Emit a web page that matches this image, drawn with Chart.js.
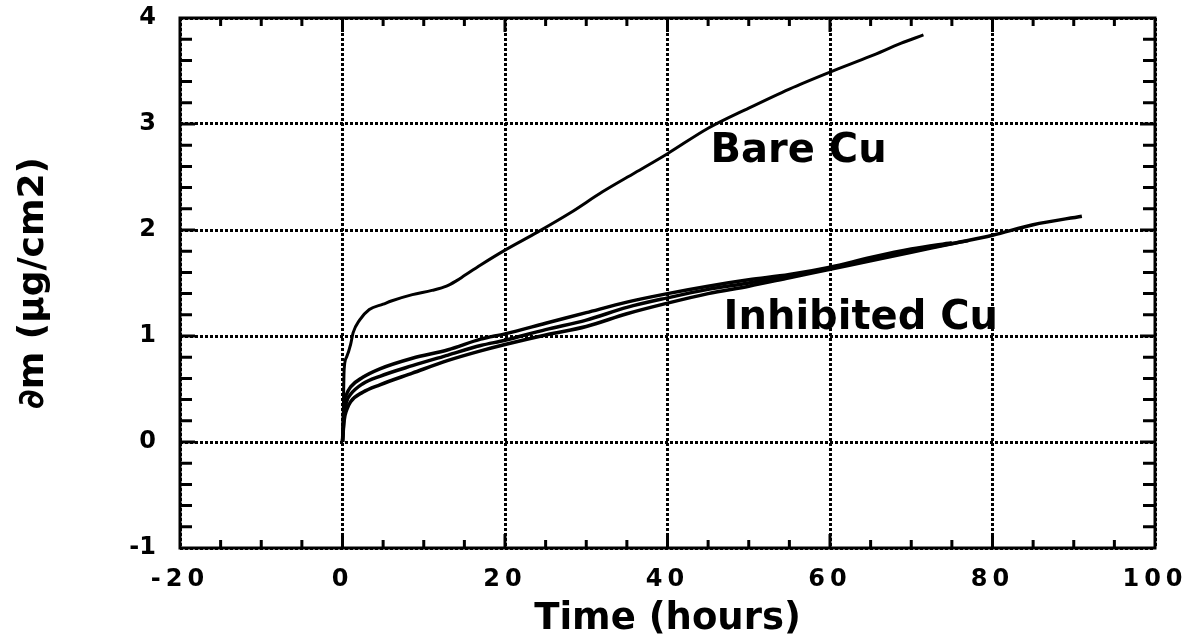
<!DOCTYPE html>
<html>
<head>
<meta charset="utf-8">
<script src="https://cdn.jsdelivr.net/npm/chart.js"></script>
<style>
  html, body { margin: 0; padding: 0; background: #fff; }
  canvas { display: block; }
</style>
</head>
<body>
<canvas id="massChart" width="1184" height="644"></canvas>
<script>
// mass gain vs time
const timeBare = [0, 0.1, 0.2, 0.5, 1.0, 1.3, 2.1, 3.3, 5, 6, 8.6, 11, 12.8, 14, 15, 17, 20, 24, 28, 32, 36, 40, 45, 50, 55, 60, 65, 68.7, 71.5];
const massBare = [0, 0.3, 0.68, 0.8, 0.92, 1.03, 1.15, 1.25, 1.30, 1.33, 1.39, 1.43, 1.47, 1.52, 1.57, 1.67, 1.81, 1.98, 2.16, 2.36, 2.54, 2.72, 2.96, 3.15, 3.33, 3.49, 3.64, 3.76, 3.84];

const timeInhA = [0, 0.2, 0.5, 1, 2.5, 4.6, 8.6, 13, 17, 20, 25, 30, 35, 40, 45, 50, 55, 60, 65, 70, 75];
const massInhA = [0, 0.35, 0.45, 0.52, 0.61, 0.69, 0.79, 0.87, 0.97, 1.02, 1.12, 1.22, 1.32, 1.40, 1.47, 1.53, 1.58, 1.65, 1.74, 1.82, 1.88];

const timeInhB = [0, 0.2, 0.5, 1, 2.5, 4.6, 8.6, 13, 17, 20, 25, 30, 35, 40, 45, 50, 55, 60, 65, 70, 77];
const massInhB = [0, 0.25, 0.38, 0.45, 0.55, 0.62, 0.72, 0.82, 0.91, 0.96, 1.06, 1.15, 1.27, 1.36, 1.44, 1.50, 1.57, 1.64, 1.72, 1.80, 1.90];

const timeInhC = [0, 0.2, 0.5, 1, 2.5, 4.6, 8.6, 13, 17, 20, 25, 30, 35, 40, 45, 50, 55, 60, 65, 70, 75, 80, 85, 91];
const massInhC = [0, 0.2, 0.3, 0.38, 0.47, 0.54, 0.65, 0.77, 0.86, 0.92, 1.01, 1.09, 1.21, 1.31, 1.40, 1.47, 1.55, 1.63, 1.71, 1.79, 1.87, 1.95, 2.05, 2.13];

// curve labels: [text, time, mass at baseline]
const curveLabels = [
  ['Bare Cu', 45.3, 2.64],
  ['Inhibited Cu', 46.9, 1.07]
];

const xMin = -20, xMax = 100, xStep = 20, xMinor = 5;
const yMin = -1, yMax = 4, yStep = 1, yMinor = 0.2;

function pts(xs, ys) {
  return xs.map((x, i) => ({ x, y: ys[i] }));
}

function line(data, w) {
  return {
    data,
    showLine: true,
    borderColor: '#000',
    borderWidth: w,
    pointRadius: 0,
    cubicInterpolationMode: 'monotone',
    fill: false
  };
}

// drop the automatic label overhang so layout padding alone sets the plot box
function noOverhang(s) {
  s.paddingTop = 0; s.paddingBottom = 0;
  s.paddingLeft = 0; s.paddingRight = 0;
}

// x tick labels get letter spacing (drawn after datasets, ticks.z = 1)
const frame = {
  id: 'frame',
  afterDatasetsDraw(chart) {
    chart.ctx.letterSpacing = '5px';
  },
  afterDraw(chart) {
    const ctx = chart.ctx;
    ctx.letterSpacing = '0px';
    const a = chart.chartArea;
    const xs = chart.scales.x, ys = chart.scales.y;
    ctx.save();
    ctx.strokeStyle = '#000';
    ctx.lineWidth = 3;
    ctx.strokeRect(a.left, a.top, a.right - a.left, a.bottom - a.top);
    ctx.beginPath();
    for (let v = xMin + xMinor; v < xMax; v += xMinor) {
      const px = xs.getPixelForValue(v);
      const len = (v % xStep === 0) ? 14 : 8;
      ctx.moveTo(px, a.bottom); ctx.lineTo(px, a.bottom - len);
      ctx.moveTo(px, a.top); ctx.lineTo(px, a.top + len);
    }
    for (let k = 1; k < (yMax - yMin) / yMinor; k++) {
      const v = yMin + k * yMinor;
      const py = ys.getPixelForValue(v);
      const len = (k % 5 === 0) ? 15 : 12;
      ctx.moveTo(a.left, py); ctx.lineTo(a.left + len, py);
      ctx.moveTo(a.right, py); ctx.lineTo(a.right - len, py);
    }
    ctx.stroke();

    ctx.fillStyle = '#000';
    ctx.font = 'bold 40px "DejaVu Sans"';
    ctx.textAlign = 'left';
    ctx.textBaseline = 'alphabetic';
    curveLabels.forEach(([t, x, y]) => {
      ctx.fillText(t, xs.getPixelForValue(x), ys.getPixelForValue(y));
    });
    ctx.restore();
  }
};

new Chart(document.getElementById('massChart'), {
  type: 'scatter',
  data: {
    datasets: [
      line(pts(timeBare, massBare), 3),
      line(pts(timeInhA, massInhA), 3.5),
      line(pts(timeInhB, massInhB), 3.5),
      line(pts(timeInhC, massInhC), 3.5)
    ]
  },
  options: {
    responsive: false,
    animation: false,
    layout: { padding: { left: 0, right: 29, top: 18, bottom: 0 } },
    plugins: { legend: { display: false }, tooltip: { enabled: false } },
    scales: {
      x: {
        type: 'linear',
        min: xMin, max: xMax,
        afterFit(s) { s.height = 96; noOverhang(s); },
        ticks: {
          stepSize: xStep,
          color: '#000',
          padding: 17,
          z: 1,
          font: { family: 'DejaVu Sans', size: 24, weight: 'bold' }
        },
        grid: { color: '#000', lineWidth: 3, drawTicks: false },
        border: { display: false, dash: [3, 2] },
        title: {
          display: true,
          text: 'Time (hours)',
          color: '#000',
          font: { family: 'DejaVu Sans', size: 37, weight: 'bold', lineHeight: 1 },
          padding: { top: 0, bottom: 6 }
        }
      },
      y: {
        type: 'linear',
        min: yMin, max: yMax,
        afterFit(s) { s.width = 180; noOverhang(s); },
        ticks: {
          stepSize: yStep,
          color: '#000',
          padding: 24,
          font: { family: 'DejaVu Sans', size: 24, weight: 'bold' }
        },
        grid: { color: '#000', lineWidth: 3, drawTicks: false },
        border: { display: false, dash: [3, 2] },
        title: {
          display: true,
          text: '∂m (µg/cm2)',
          color: '#000',
          font: { family: 'DejaVu Sans', size: 36, weight: 'bold', lineHeight: 1 },
          padding: { top: 16, bottom: 0 }
        }
      }
    }
  },
  plugins: [frame]
});
</script>
</body>
</html>
